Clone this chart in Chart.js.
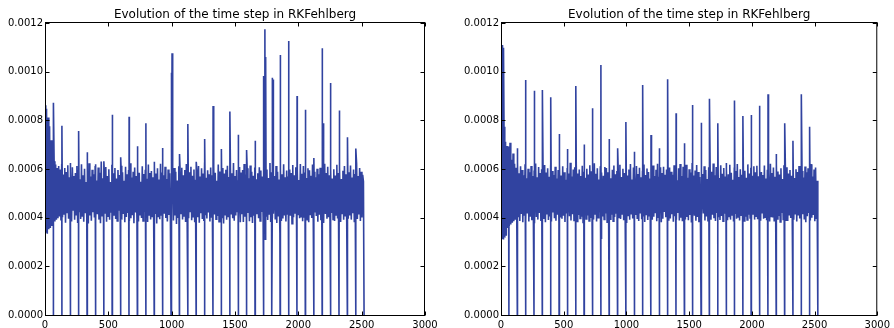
<!DOCTYPE html>
<html>
<head>
<meta charset="utf-8">
<script src="https://cdn.jsdelivr.net/npm/chart.js@4.4.1/dist/chart.umd.min.js"></script>
<style>
  body { margin: 0; background: #fff; }
  #wrap { position: relative; width: 894px; height: 328px; }
  canvas { position: absolute; top: 0; }
</style>
</head>
<body>
<div id="wrap">
  <canvas id="leftChart" width="447" height="328" style="left:0"></canvas>
  <canvas id="rightChart" width="447" height="328" style="left:447px"></canvas>
</div>
<script>
// time step values are in units of 1e-6, band sampled every 6 steps
const bandStride = 6;

const bandLeft = [
  862,338,848,334,812,352,776,358,718,366,664,372,632,384,618,392,604,398,612,405,
  598,388,621,402,577,415,604,379,588,421,615,396,566,408,592,384,607,432,571,391,
  583,412,612,378,596,426,558,395,619,404,574,383,601,418,547,399,588,376,624,409,
  569,387,597,422,578,401,612,385,553,414,606,392,585,377,631,408,562,396,594,419,
  608,383,571,406,599,391,546,424,617,379,582,411,604,395,561,387,596,428,575,401,
  613,392,587,415,552,381,609,403,578,419,596,386,624,398,565,410,589,377,606,421,
  571,396,603,384,585,412,548,399,611,387,579,423,597,405,560,382,618,411,584,393,
  592,405,566,389,614,418,581,376,603,402,557,394,622,408,586,385,574,416,609,399,
  559,384,598,411,582,396,615,422,567,388,604,409,589,374,553,402,611,391,577,417,
  605,393,574,407,596,382,621,415,561,398,587,426,609,389,572,404,598,381,556,413,
  588,402,612,379,569,418,603,395,581,386,627,410,564,397,595,421,578,384,606,400,
  574,388,609,413,585,394,552,407,618,383,590,419,566,401,604,376,581,412,597,391,
  613,405,567,384,599,416,583,398,625,387,571,409,596,422,554,393,608,381,586,414,
  596,382,621,404,577,391,603,419,562,385,614,402,589,378,572,411,606,395,558,417,
  583,398,607,386,594,423,569,401,616,384,581,407,598,390,563,415,625,382,587,403,
  604,416,571,393,612,378,589,405,557,419,601,386,578,397,619,409,566,384,594,412,
  569,391,598,408,583,375,616,402,574,419,607,386,592,413,555,398,621,404,580,385,
  612,403,586,417,563,392,603,381,595,410,572,399,618,386,589,421,566,407,601,383,
  578,412,605,389,591,404,567,378,622,415,583,396,609,402,574,388,597,419,561,393,
  599,386,573,411,617,397,584,405,606,382,559,417,593,391,612,408,578,384,603,396,
  587,409,614,392,565,418,598,381,579,404,622,395,571,413,604,386,589,401,576,548
];
const dropsLeft = [66,133,199,265,332,398,464,530,597,663,729,796,862,928,995,1061,1127,1193,
  1260,1326,1392,1459,1525,1591,1658,1724,1790,1856,1923,1989,2055,2122,2188,2254,2321,2387,2453,2519];
const peaksLeft = [[67,872],[134,778],[200,625],[266,756],[333,669],[399,620],[465,632],[531,823],
  [598,648],[664,815],[730,694],[797,788],[863,630],[929,686],[997,996],[1003,1076],[1062,662],
  [1128,785],[1194,630],[1261,723],[1327,859],[1393,682],[1460,836],[1526,741],[1592,678],
  [1659,716],[1726,982],[1736,1174],[1744,1060],[1795,975],[1800,968],[1857,1069],[1924,1126],
  [1990,900],[2056,843],[2123,645],[2189,1096],[2197,788],[2255,953],[2322,840],[2388,730],[2454,684]];
const dipsLeft = [[1000,311],[1739,311],[1855,336]];

const bandRight = [
  892,312,818,314,774,318,712,326,694,358,651,366,708,372,638,379,664,385,622,391,
  605,378,628,402,582,386,611,415,596,381,574,408,619,393,562,417,601,384,587,404,
  612,389,571,410,594,377,623,403,566,392,608,419,583,386,599,407,554,395,616,381,
  586,413,603,390,568,405,617,384,592,421,575,398,609,387,561,412,596,379,622,401,
  573,396,611,408,587,382,556,417,604,393,581,406,626,388,569,414,598,385,607,402,
  619,384,582,411,598,397,571,404,613,380,589,418,564,395,601,409,577,386,615,399,
  591,407,566,392,624,415,580,384,603,400,557,421,611,389,586,405,572,393,608,417,
  604,381,587,406,619,394,562,412,597,385,614,403,578,419,592,388,568,401,617,395,
  567,415,601,389,584,402,611,378,573,409,598,391,620,416,557,397,606,383,582,411,
  612,398,579,386,605,420,566,394,593,408,618,382,575,413,602,390,588,405,561,417,
  585,391,614,404,571,418,597,385,622,399,568,410,607,381,584,396,609,423,576,402,
  598,410,563,387,606,397,589,414,576,383,615,406,592,391,554,419,603,388,621,400,
  571,385,609,416,582,392,617,403,564,389,599,411,586,380,625,397,573,408,594,387,
  616,403,588,381,567,409,602,394,579,417,611,388,596,405,559,384,607,413,583,391,
  589,412,623,398,574,386,608,419,591,402,563,390,615,407,580,385,604,416,569,399,
  602,389,578,405,617,392,585,411,556,384,606,418,592,396,621,403,567,388,599,410,
  576,417,609,386,593,404,564,391,619,412,581,399,605,383,572,415,611,392,587,406,
  613,394,570,409,601,387,588,420,575,396,614,402,561,389,597,413,583,384,622,405,
  584,401,606,388,568,414,621,395,590,407,577,382,603,419,559,393,615,404,586,390,
  607,386,581,412,596,399,572,405,618,391,563,416,599,384,588,409,612,397,575,402,
  592,414,565,393,610,381,587,406,603,419,576,388,620,400,569,411,598,385,606,395,
  552
];
const dropsRight = [63,130,196,263,329,396,463,529,596,662,729,796,862,929,995,1062,1129,1195,
  1262,1328,1395,1462,1528,1595,1661,1728,1795,1861,1928,1994,2061,2128,2194,2261,2327,2394,2460,2526];
const peaksRight = [[12,1110],[20,1098],[64,692],[131,685],[197,966],[264,922],[330,925],[397,895],
  [464,744],[530,682],[597,941],[663,701],[730,850],[797,1027],[863,723],[930,685],[996,793],
  [1063,671],[1130,945],[1196,740],[1263,685],[1329,969],[1396,829],[1463,706],[1529,863],
  [1596,790],[1662,889],[1729,788],[1796,625],[1862,882],[1929,818],[1995,822],[2062,860],
  [2129,907],[2195,662],[2262,788],[2328,716],[2395,907],[2461,774]];
const dipsRight = [[799,312],[1524,336]];

const xTicks = [0, 500, 1000, 1500, 2000, 2500, 3000];
const yTicks = [0, 0.0002, 0.0004, 0.0006, 0.0008, 0.0010, 0.0012];
const titleText = "Evolution of the time step in RKFehlberg";

function buildPoints(band, drops, peaks, dips) {
  const pts = band.map((v, i) => ({ x: i * bandStride, y: v / 1e6 }));
  drops.forEach((s) => pts.push({ x: s, y: 0 }));
  peaks.concat(dips).forEach(([s, v]) => pts.push({ x: s, y: v / 1e6 }));
  pts.sort((a, b) => a.x - b.x);
  return pts;
}

const framePlugin = {
  id: "frame",
  afterDraw(chart) {
    const { ctx, chartArea: a, scales } = chart;
    ctx.save();
    ctx.strokeStyle = "#000";
    ctx.lineWidth = 1;
    const l = a.left + 0.5, r = a.right - 0.5, t = a.top - 0.5, b = a.bottom + 0.5;
    ctx.strokeRect(l, t, r - l, b - t);
    ctx.beginPath();
    xTicks.forEach((v) => {
      const x = Math.round(scales.x.getPixelForValue(v)) + 0.5;
      ctx.moveTo(x, b); ctx.lineTo(x, b - 4);
      ctx.moveTo(x, t); ctx.lineTo(x, t + 4);
    });
    yTicks.forEach((v) => {
      const y = Math.round(scales.y.getPixelForValue(v)) + 0.5;
      ctx.moveTo(l, y); ctx.lineTo(l + 4, y);
      ctx.moveTo(r, y); ctx.lineTo(r - 4, y);
    });
    ctx.stroke();
    ctx.fillStyle = "#000";
    ctx.font = "12px 'DejaVu Sans'";
    ctx.textAlign = "center";
    ctx.textBaseline = "alphabetic";
    ctx.fillText(titleText, (a.left + a.right) / 2, 18);
    ctx.restore();
  },
};

function makeChart(id, points, yWidth, padRight) {
  return new Chart(document.getElementById(id), {
    type: "line",
    data: {
      datasets: [
        {
          data: points,
          borderColor: "rgb(49,67,160)",
          borderWidth: 1.6,
          pointRadius: 0,
          tension: 0,
          fill: false,
        },
      ],
    },
    options: {
      responsive: false,
      animation: false,
      devicePixelRatio: 1,
      parsing: false,
      layout: { padding: { top: 23, right: padRight, left: 0, bottom: 0 } },
      plugins: {
        legend: { display: false },
        tooltip: { enabled: false },
      },
      scales: {
        x: {
          type: "linear",
          min: 0,
          max: 3000,
          afterFit: (s) => { s.height = 13; },
          afterBuildTicks: (s) => { s.ticks = xTicks.map((v) => ({ value: v })); },
          grid: { display: false, drawTicks: false },
          border: { display: false },
          ticks: {
            color: "#000",
            padding: 4,
            maxRotation: 0,
            autoSkip: false,
            font: { family: "DejaVu Sans", size: 10 },
            callback: (v) => String(v),
          },
        },
        y: {
          min: 0,
          max: 0.0012,
          afterFit: (s) => { s.width = yWidth; },
          afterBuildTicks: (s) => { s.ticks = yTicks.map((v) => ({ value: v })); },
          grid: { display: false, drawTicks: false },
          border: { display: false },
          ticks: {
            color: "#000",
            padding: 2,
            font: { family: "DejaVu Sans", size: 10 },
            callback: (v) => Number(v).toFixed(4),
          },
        },
      },
    },
    plugins: [framePlugin],
  });
}

makeChart("leftChart", buildPoints(bandLeft, dropsLeft, peaksLeft, dipsLeft), 45, 22);
makeChart("rightChart", buildPoints(bandRight, dropsRight, peaksRight, dipsRight), 54, 15);
</script>
</body>
</html>
